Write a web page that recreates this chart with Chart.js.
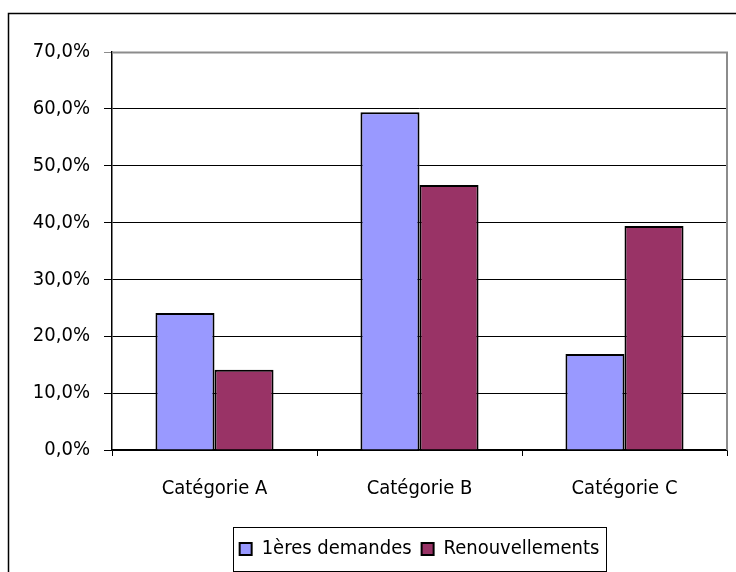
<!DOCTYPE html>
<html>
<head>
<meta charset="utf-8">
<script src="https://cdn.jsdelivr.net/npm/chart.js@4"></script>
<style>
  html, body { margin: 0; padding: 0; background: #fff; }
  #wrap { width: 736px; height: 572px; }
</style>
</head>
<body>
<div id="wrap"><canvas id="c" width="736" height="572"></canvas></div>
<script>
const categories = ['Catégorie A', 'Catégorie B', 'Catégorie C'];
const firstRequests = [24.1, 59.4, 16.9];
const renewals = [14.1, 46.6, 39.4];
const seriesNames = ['1ères demandes', 'Renouvellements'];
const yTicks = [0, 10, 20, 30, 40, 50, 60, 70];

const FONT = "'Liberation Sans Narrow', 'DejaVu Sans Condensed', 'Arial Narrow', sans-serif";

const frame = {
  id: 'frame',
  afterLayout(chart) {
    const lg = chart.legend, a = chart.chartArea;
    if (!lg) return;
    const shift = (a.left + a.right) / 2 - (lg.left + lg.right) / 2;
    lg.left += shift;
    lg.right += shift;
  },
  beforeDraw(chart) {
    const ctx = chart.ctx;
    ctx.save();
    ctx.fillStyle = '#fff';
    ctx.fillRect(0, 0, chart.width, chart.height);
    ctx.strokeStyle = '#000';
    ctx.lineWidth = 1.5;
    ctx.strokeRect(8.5, 13.5, 760, 620);
    ctx.restore();
  },
  beforeDatasetsDraw(chart) {
    const a = chart.chartArea, ctx = chart.ctx;
    ctx.save();
    ctx.strokeStyle = '#8c8c8c';
    ctx.lineWidth = 2;
    ctx.beginPath();
    ctx.moveTo(a.left, a.top + 0.5);
    ctx.lineTo(a.right, a.top + 0.5);
    ctx.lineTo(a.right, a.bottom);
    ctx.stroke();
    ctx.restore();
  },
  afterDraw(chart) {
    const lg = chart.legend;
    if (!lg || !lg.lineWidths) return;
    const pad = lg.options.labels.padding;
    const start = (lg.left + pad + lg.right - lg.lineWidths[0]) / 2;
    const left = start - 7;
    const right = start + lg.lineWidths[0] - pad + 6;
    const hb = lg.legendHitBoxes;
    const cy = hb && hb.length ? hb[0].top + hb[0].height / 2 : 548;
    const ctx = chart.ctx;
    ctx.save();
    ctx.strokeStyle = '#000';
    ctx.lineWidth = 1;
    ctx.strokeRect(Math.round(left) + 0.5, Math.round(cy - 22) + 0.5, Math.round(right - left), 44);
    ctx.restore();
  }
};

new Chart(document.getElementById('c'), {
  type: 'bar',
  data: {
    labels: categories,
    datasets: [
      { label: seriesNames[0], data: firstRequests, backgroundColor: '#9999ff', borderColor: '#000', borderWidth: 2 },
      { label: seriesNames[1], data: renewals, backgroundColor: '#993366', borderColor: '#000', borderWidth: 2 }
    ]
  },
  options: {
    responsive: false,
    animation: false,
    devicePixelRatio: 1,
    layout: { padding: { left: 0, right: 9, top: 52, bottom: 3 } },
    datasets: { bar: { categoryPercentage: 0.576, barPercentage: 1.0 } },
    plugins: {
      tooltip: { enabled: false },
      legend: {
        position: 'bottom',
        labels: {
          color: '#000',
          font: { family: FONT, size: 20 },
          boxWidth: 12,
          boxHeight: 12,
          padding: 10
        }
      }
    },
    scales: {
      x: {
        offset: true,
        afterFit(s) { s.height = 79; },
        grid: { display: true, offset: true, drawOnChartArea: false, drawTicks: true, tickLength: 6, color: '#000' },
        border: { display: true, color: '#000', width: 1.5 },
        ticks: { color: '#000', font: { family: FONT, size: 20 }, padding: 21 }
      },
      y: {
        min: 0,
        max: 70,
        afterFit(s) { s.width = 112; },
        afterBuildTicks(s) { s.ticks = yTicks.map(v => ({ value: v })); },
        grid: {
          color: ctx => (ctx.tick && ctx.tick.value === 70) ? '#8c8c8c' : '#000',
          lineWidth: 1,
          tickLength: 8,
          drawTicks: true
        },
        border: { display: true, color: '#000', width: 1.5 },
        ticks: {
          color: '#000',
          font: { family: FONT, size: 20 },
          padding: 14,
          callback: v => v.toFixed(1).replace('.', ',') + '%'
        }
      }
    }
  },
  plugins: [frame]
});
</script>
</body>
</html>
